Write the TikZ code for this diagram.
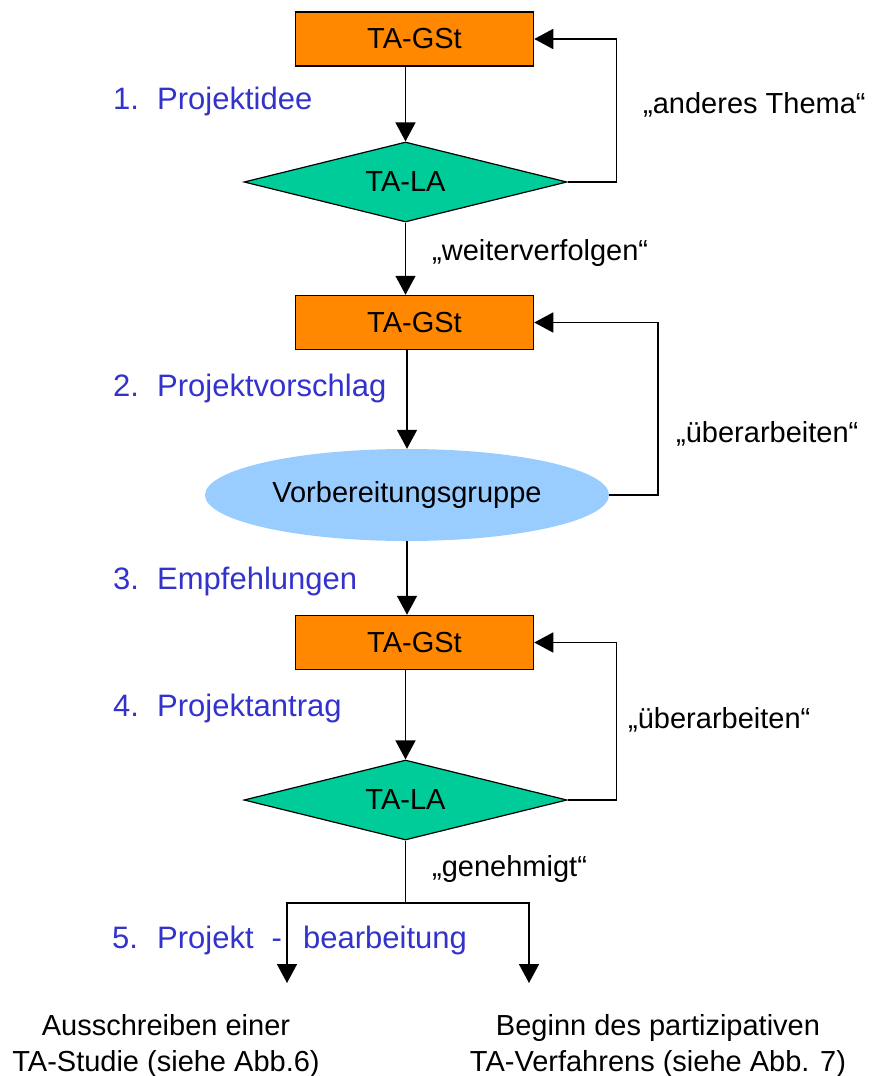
\documentclass[tikz,border=0pt]{standalone}
\usepackage{fontspec}
\setmainfont{Liberation Sans}
\usetikzlibrary{shapes.geometric,arrows.meta}
\definecolor{gstorange}{HTML}{FF8800}
\definecolor{lagreen}{HTML}{00CC99}
\definecolor{vgblue}{HTML}{99CCFF}
\definecolor{steptext}{HTML}{3333CC}
\tikzset{
  gstbox/.style={draw=black, line width=1.5pt, fill=gstorange, minimum width=238pt, minimum height=54pt, inner sep=0pt, font=\fontsize{29}{33}\selectfont},
  ladiamond/.style={diamond, aspect=4, draw=black, line width=1.2pt, fill=lagreen, minimum width=323pt, minimum height=80pt, inner sep=0pt, font=\fontsize{29}{33}\selectfont},
  vgellipse/.style={ellipse, fill=vgblue, minimum width=404pt, minimum height=92pt, inner sep=0pt, font=\fontsize{29}{33}\selectfont},
  steplabel/.style={anchor=base west, text=steptext, inner sep=0pt, font=\fontsize{31}{36}\selectfont},
  quotelabel/.style={anchor=base west, inner sep=0pt, font=\fontsize{29}{33}\selectfont},
  endlabel/.style={align=center, inner sep=0pt, font=\fontsize{29}{36}\selectfont},
  conn/.style={line width=1.6pt, draw=black},
  arr/.style={conn, -{Triangle[length=19pt,width=20pt]}}
}
\begin{document}
\begin{tikzpicture}[x=1pt,y=-1pt]
\useasboundingbox (0,0) rectangle (872,1076);
% nodes
\node[gstbox] (g1) at (414.5,39) {TA-GSt};
\node[ladiamond] (d1) at (405.5,182) {TA-LA};
\node[gstbox] (g2) at (414.5,322.5) {TA-GSt};
\node[vgellipse] (e1) at (407,495) {Vorbereitungsgruppe};
\node[gstbox] (g3) at (414.5,642.5) {TA-GSt};
\node[ladiamond] (d2) at (405.5,800) {TA-LA};
% step labels
\node[steplabel] (s1) at (113,109) {\makebox[44pt][l]{1.}Projektidee};
\node[steplabel] (s2) at (113,396) {\makebox[44pt][l]{2.}Projektvorschlag};
\node[steplabel] (s3) at (113,589) {\makebox[44pt][l]{3.}Empfehlungen};
\node[steplabel] (s4) at (113,716) {\makebox[44pt][l]{4.}Projektantrag};
\node[steplabel] (s5) at (112,948) {\makebox[45pt][l]{5.}\makebox[146pt][l]{Projekt\hspace{18pt}-}bearbeitung};
% quote labels
\node[quotelabel] (q1) at (643,113) {„anderes Thema“};
\node[quotelabel] (q2) at (432,260) {„weiterverfolgen“};
\node[quotelabel] (q3) at (676,442) {„überarbeiten“};
\node[quotelabel] (q4) at (628,728) {„überarbeiten“};
\node[quotelabel] (q5) at (432,876) {„genehmigt“};
% end labels
\node[endlabel] (t1) at (166,1046) {Ausschreiben einer\\TA-Studie (siehe Abb.6)};
\node[endlabel] (t2) at (658,1046) {Beginn des partizipativen\\TA-Verfahrens (siehe Abb. 7)};
% coordinates
\coordinate (split) at (405.5,903);
\coordinate (la) at (287,983);
\coordinate (ra) at (529,983);
% connectors
\draw[arr] (g1.south -| d1.north) -- (d1.north);
\draw[arr] (d1.east) -- ++(49,0) |- (g1.east);
\draw[arr] (d1.south) -- (d1.south |- g2.north);
\draw[arr] (g2.south -| e1.north) -- (e1.north);
\draw[arr] (e1.east) -- ++(49,0) |- (g2.east);
\draw[arr] (e1.south) -- (e1.south |- g3.north);
\draw[arr] (g3.south -| d2.north) -- (d2.north);
\draw[arr] (d2.east) -- ++(49,0) |- (g3.east);
\draw[conn] (d2.south) -- (split);
\draw[arr] (split) -| (la);
\draw[arr] (split) -| (ra);
\end{tikzpicture}
\end{document}
